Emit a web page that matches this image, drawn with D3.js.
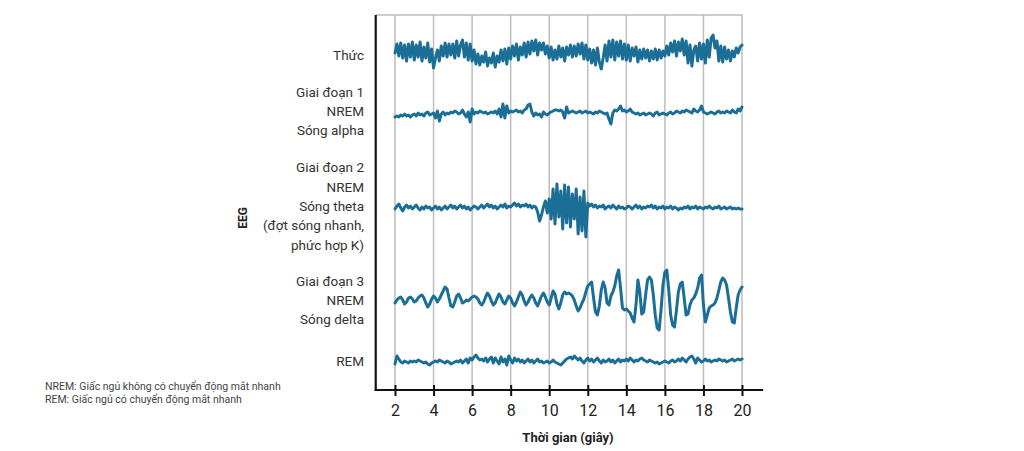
<!DOCTYPE html>
<html>
<head>
<meta charset="utf-8">
<script src="https://cdn.jsdelivr.net/npm/d3@7"></script>
<style>
  html, body { margin: 0; padding: 0; background: #fff; }
  svg { display: block; font-family: Roboto, "Noto Sans", sans-serif; }
</style>
</head>
<body>
<svg id="chart" width="1024" height="451"></svg>
<script>
// ---------- DATA ----------
const tickLabels = [2, 4, 6, 8, 10, 12, 14, 16, 18, 20];
const timeStart = 2;     // seconds
const sampleStep = 0.1;  // seconds per sample

const stageLabels = [
  ["Thức"],
  ["Giai đoạn 1", "NREM", "Sóng alpha"],
  ["Giai đoạn 2", "NREM", "Sóng theta", "(đợt sóng nhanh,", "phức hợp K)"],
  ["Giai đoạn 3", "NREM", "Sóng delta"],
  ["REM"]
];

const wake = [
  0, 9, -3, 10, -5, 8, -8, 9, -4, 11,
  -7, 8, -4, 11, -8, 6, -5, 10, -9, 4,
  -15, -5, 3, -8, 7, -3, 10, -4, 9, -2,
  9, -5, 12, -3, 8, 13, -4, 10, -7, 9,
  -8, 3, -11, -1, -12, -3, -9, 1, -13, -5,
  -10, 0, -14, -3, -9, 3, -8, 4, -11, 5,
  -6, 7, -3, 9, -7, 6, -2, 10, -4, 11,
  -1, 12, 2, 13, -2, 10, 3, 10, -1, 7,
  -5, 6, -7, 3, -6, 7, -4, 5, -8, 6,
  -2, 8, -4, 7, -3, 9, -1, 10, -6, 8,
  -7, 4, -10, 3, -12, 5, -9, -16, -5, 8,
  -8, 12, -4, 13, -7, 11, -3, 12, -6, 9,
  -7, 8, -8, 5, -3, 6, -9, 3, -6, 4,
  -5, 3, -8, 2, -6, 4, -7, 3, -5, 2,
  -3, 7, -2, 10, 1, 12, -3, 11, 2, 14,
  -2, 12, -10, 8, -13, 3, 7, -8, 10, -6,
  9, -10, 13, -4, 15, 18, 5, 12, -8, 7,
  -9, 6, -6, 3, -8, 2, -4, 5, 0, 6,
  8
];

const stage1 = [
  -2, -1, -2, 0, -1, 1, -1, 0, -2, 0,
  1, -1, 2, 0, 1, -1, 2, 3, 0, 1,
  2, -3, 4, -6, 1, 3, 0, 2, 1, 3,
  2, 4, 3, 1, 2, 5, 1, -2, 3, -7,
  6, 1, 3, 2, 4, 3, 2, 3, 1, 2,
  3, 2, 4, 1, 6, -2, 11, -3, 9, 2,
  4, 3, 4, 5, 3, 4, 2, 5, 6, 10,
  11, 3, -1, 2, 0, 1, -2, 3, 1, 0,
  2, 3, 4, 5, 5, 4, 5, 3, -3, 8,
  2, 3, 4, 3, 2, 3, 4, 2, 3, 4,
  2, 3, 2, 1, 3, 2, 4, 3, 2, 1,
  2, -4, -9, 2, 5, 4, 6, 9, 4, 5,
  3, 4, 6, 3, 2, 1, 2, 0, 1, 2,
  0, 1, 2, 1, -1, 2, 3, 0, 1, 2,
  1, 0, 2, 3, 1, 2, 4, 3, 2, 4,
  3, 5, 4, 3, 2, 6, 4, 3, 5, 9,
  3, 2, 1, 2, 3, 2, 1, 3, 4, 2,
  3, 2, 4, 3, 2, 5, 3, 2, 6, 4,
  8
];

const stage2 = [
  0, 3, 5, 1, -2, 2, 4, 1, 3, 0,
  2, 4, 1, -1, 2, 0, 3, 1, 2, -1,
  1, 3, 0, 2, -1, 1, 3, 0, 2, 4,
  1, 3, 0, 2, 4, 1, 3, 0, 2, -1,
  1, 3, 2, 0, 2, 4, 1, 3, 5, 2,
  4, 1, 3, 0, 2, 4, 2, 5, 1, 3,
  2, 4, 6, 3, 5, 2, 4, 3, 5, 2,
  4, 1, 3, 2, -3, -12, -6, 2, 8, -4,
  10, -10, 20, -15, 25, -8, 18, -20, 24, -14,
  22, -18, 15, -10, 20, -25, 12, -22, 18, -28,
  6, 3, 5, 2, 4, 1, 3, 2, 4, 0,
  2, 3, 1, 4, 2, 0, 3, 1, 2, 0,
  1, 3, 2, 0, 2, 4, 1, 3, 0, 2,
  1, 3, 2, 4, 1, 3, 0, 2, 1, 3,
  0, 2, 1, 3, 0, 2, 1, -1, 1, 0,
  2, 1, 3, 0, 2, 1, 3, 0, 2, 1,
  0, 2, 1, 3, 1, 0, 2, 1, 3, 0,
  1, 2, 0, 1, 2, 0, 1, 0, 1, 0,
  0
];

const stage3 = [
  -3, 0, 2, 3, 0, -4, -2, 2, 3, 1,
  -2, -1, 2, 4, 5, 2, -3, -7, -4, 1,
  4, 2, -2, 1, 5, 9, 13, 11, 2, -6,
  -7, -2, 4, 6, 2, -3, -2, 0, -1, 1,
  3, 4, 3, 1, -3, -5, -2, 3, 7, 4,
  -1, -5, -3, 2, 6, 3, -2, -4, 0, 4,
  2, -3, -6, -2, 3, 8, 5, -1, -5, -2,
  2, 5, 2, -3, -6, -1, 4, 7, 3, -2,
  -5, 2, 9, 6, -4, -9, -3, 5, 8, 6,
  7, 6, 4, 0, -6, -11, -8, -3, 1, 8,
  14, 16, 18, 2, -12, -15, -6, 10, 18, 12,
  -3, -5, 4, 8, 14, 24, 30, 12, -8, -10,
  -9, -11, -13, -18, -22, -5, 20, 8, -14, -12,
  5, 20, 23, 20, 5, -15, -28, -30, -10, 15,
  28, 30, 10, -15, -25, -27, -10, 8, 16, 18,
  2, -15, -14, -5, 0, 2, 6, 12, 22, 25,
  -5, -22, -15, -8, -6, -5, -3, 2, 10, 18,
  22, 20, 15, 2, -12, -22, -23, -8, 5, 10,
  13
];

const rem = [
  -2, 6, 3, 0, -1, 1, 0, -1, 1, 0,
  1, 0, 2, 1, 0, -1, 0, -2, -3, -1,
  0, 1, 0, 2, 1, 0, -1, 1, 0, -2,
  -1, 0, 1, 0, 2, -1, 1, 3, -1, 4,
  2, 5, 7, 4, 2, 3, 1, 4, 0, 3,
  5, -1, 4, 1, -2, 5, 0, 3, -3, 6,
  2, -1, 4, 1, 3, 0, 2, -1, 1, 3,
  0, 2, -1, 1, 3, 0, 1, -1, 0, 1,
  -1, 0, 2, 0, -1, -2, -3, -1, 1, 3,
  4, 5, 3, 6, 4, 2, 4, 1, -1, 2,
  4, 1, 3, 0, 2, 4, 1, -1, 2, 0,
  1, 3, 0, 2, -1, 1, 3, 0, 2, 1,
  3, 1, 4, 2, 0, 2, 1, 3, 4, 2,
  1, 0, 2, 1, 0, -1, 0, -2, -1, 0,
  1, 0, -1, 1, 2, 0, 1, 3, 1, 4,
  2, 0, 3, 5, 6, 3, -1, 4, 2, 0,
  1, 3, 1, 2, 0, 1, 2, 1, 3, 2,
  1, 2, 0, 1, 2, 3, 1, 2, 3, 2,
  3
];

const seriesList = [wake, stage1, stage2, stage3, rem];

const footnotes = [
  "NREM: Giấc ngủ không có chuyển động mắt nhanh",
  "REM: Giấc ngủ có chuyển động mắt nhanh"
];
const xTitle = "Thời gian (giây)";
const yTitle = "EEG";

// ---------- LAYOUT ----------
const rowBaseline = [53, 115, 209, 300, 362];
const rowLabelCenter = [55, 111, 206, 300, 361];
const lineH = 19.3;
const plotTop = 15, plotBottom = 390;
const traceColor = "#1b6f97";

const svg = d3.select("#chart");

const x = d3.scaleLinear().domain([2, 20]).range([395, 742]);
const amp = d3.scaleLinear().domain([0, 10]).range([0, -10]);

// gridlines
svg.append("g").selectAll("line").data(tickLabels).join("line")
  .attr("x1", d => x(d)).attr("x2", d => x(d))
  .attr("y1", plotTop).attr("y2", plotBottom)
  .attr("stroke", "#bdbdbd").attr("stroke-width", 1.5);

// top border
svg.append("line")
  .attr("x1", x(1)).attr("x2", x(20) + 0.75)
  .attr("y1", plotTop).attr("y2", plotTop)
  .attr("stroke", "#bdbdbd").attr("stroke-width", 1.5);

// traces
const line = d3.line()
  .x((d, i) => x(timeStart + i * sampleStep))
  .y(d => d)
  .curve(d3.curveLinear);

seriesList.forEach((s, k) => {
  svg.append("path")
    .datum(s.map(v => rowBaseline[k] + amp(v)))
    .attr("d", line)
    .attr("fill", "none")
    .attr("stroke", traceColor)
    .attr("stroke-width", 3)
    .attr("stroke-linejoin", "round")
    .attr("stroke-linecap", "round");
});

// left axis line
svg.append("line")
  .attr("x1", x(1)).attr("x2", x(1))
  .attr("y1", plotTop).attr("y2", plotBottom + 1)
  .attr("stroke", "#111").attr("stroke-width", 2.2);

// bottom axis
const xAxis = d3.axisBottom(x).tickValues(tickLabels).tickSize(0).tickPadding(0);
const gx = svg.append("g").attr("transform", `translate(0,${plotBottom})`).call(xAxis);
gx.select(".domain").remove();
gx.selectAll(".tick line").remove();
gx.selectAll(".tick").append("line")
  .attr("y1", -5).attr("y2", 6)
  .attr("stroke", "#111").attr("stroke-width", 2);
gx.selectAll(".tick text")
  .attr("y", 15)
  .attr("font-size", 16)
  .attr("font-family", "Roboto, sans-serif")
  .attr("fill", "#222");
svg.append("line")
  .attr("x1", x(1) - 1).attr("x2", x(21.1))
  .attr("y1", plotBottom).attr("y2", plotBottom)
  .attr("stroke", "#111").attr("stroke-width", 2.2);

// x title
svg.append("text")
  .attr("x", 568).attr("y", 442)
  .attr("text-anchor", "middle")
  .attr("font-size", 13).attr("font-weight", "bold")
  .attr("fill", "#222")
  .text(xTitle);

// y title
svg.append("text")
  .attr("transform", "translate(247,218) rotate(-90)")
  .attr("text-anchor", "middle")
  .attr("font-size", 12).attr("font-weight", "bold")
  .attr("fill", "#222")
  .text(yTitle);

// stage labels
stageLabels.forEach((lines, k) => {
  const n = lines.length;
  const t = svg.append("text")
    .attr("text-anchor", "end")
    .attr("font-size", 13.5)
    .attr("fill", "#333");
  lines.forEach((ln, j) => {
    t.append("tspan")
      .attr("x", 364)
      .attr("y", rowLabelCenter[k] + (j - (n - 1) / 2) * lineH + 5)
      .text(ln);
  });
});

// footnotes
svg.append("g").selectAll("text").data(footnotes).join("text")
  .attr("x", 45)
  .attr("y", (d, i) => 390 + i * 12.5)
  .attr("font-size", 10.5)
  .attr("fill", "#444")
  .text(d => d);
</script>
</body>
</html>
